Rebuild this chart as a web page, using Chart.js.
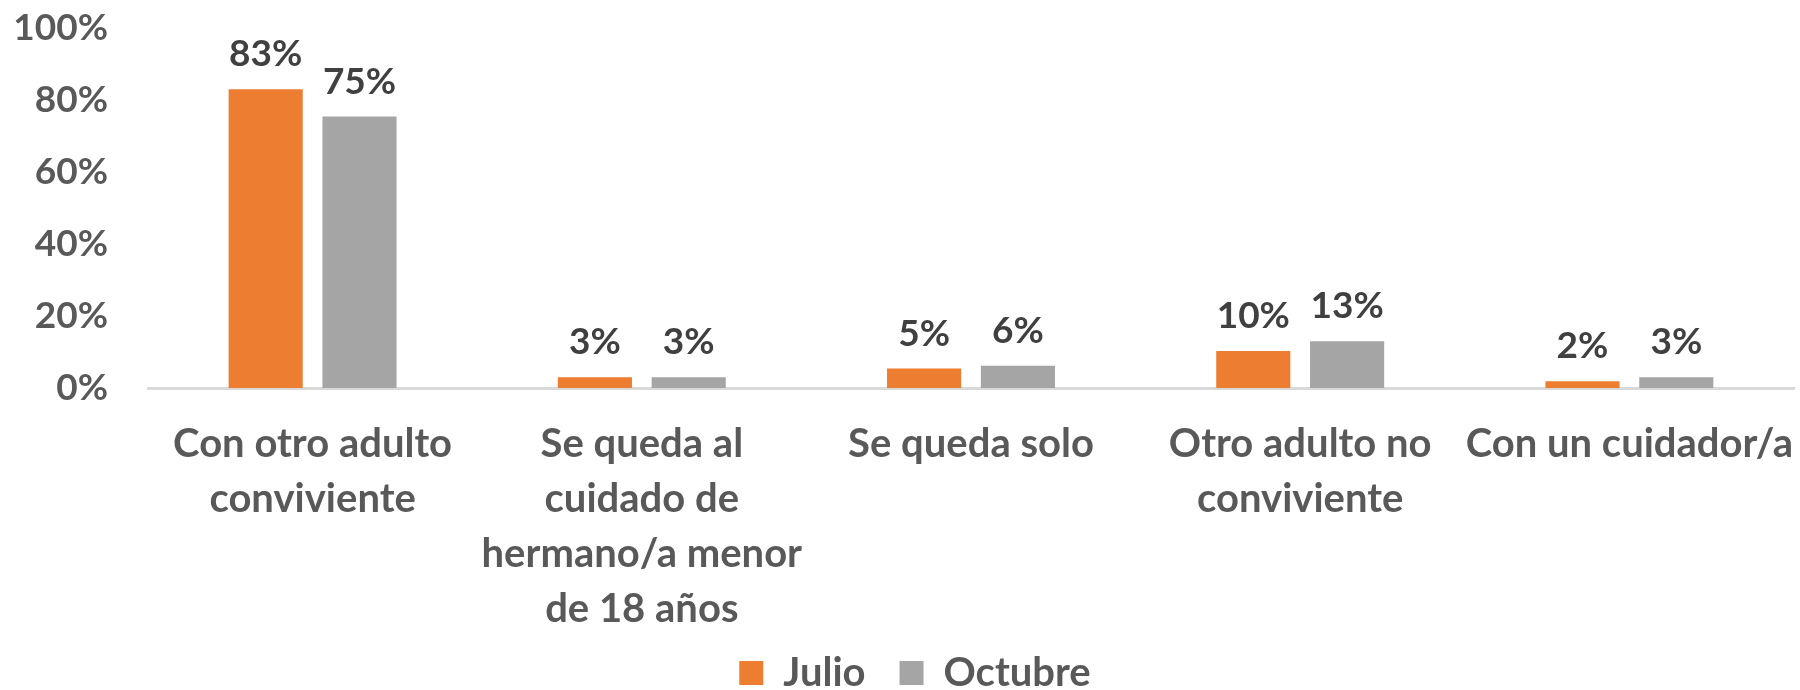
<!DOCTYPE html>
<html>
<head>
<meta charset="utf-8">
<script src="https://cdn.jsdelivr.net/npm/chart.js@4.4.0/dist/chart.umd.min.js"></script>
<style>
  html, body { margin: 0; padding: 0; background: #fff; }
  #wrap { width: 1800px; height: 690px; }
</style>
</head>
<body>
<div id="wrap"><canvas id="chart"></canvas></div>
<script>
// Data
const categories = [
    ['Con otro adulto', 'conviviente'],
    ['Se queda al', 'cuidado de', 'hermano/a menor', 'de 18 años'],
    'Se queda solo',
    ['Otro adulto no', 'conviviente'],
    'Con un cuidador/a'
];
const seriesNames = ['Julio', 'Octubre'];
const julio = [83, 3, 5.4, 10.3, 1.9];
const octubre = [75.4, 3, 6.2, 13, 3];
const yTicks = [0, 20, 40, 60, 80, 100];

Chart.defaults.font.family = "Lato, 'Noto Sans', sans-serif";
Chart.defaults.font.weight = 'bold';
Chart.defaults.color = '#595959';

// small layout tweaks + value labels above each bar
const tweaks = {
    id: 'tweaks',
    afterLayout(chart) {
        // legend sits a bit lower / further right than chart.js puts it
        chart.legend.top += 13;
        chart.legend.bottom += 13;
        chart.legend.left += 18;
        chart.legend.right += 18;
        // don't clip the 4-line category label
        chart.scales.x.bottom = chart.height;
    },
    afterDatasetsDraw(chart) {
        const ctx = chart.ctx;
        ctx.save();
        ctx.font = "bold 37px Lato, 'Noto Sans', sans-serif";
        ctx.fillStyle = '#404040';
        ctx.textAlign = 'center';
        ctx.textBaseline = 'alphabetic';
        chart.data.datasets.forEach((ds, i) => {
            chart.getDatasetMeta(i).data.forEach((bar, j) => {
                ctx.fillText(Math.round(ds.data[j]) + '%', bar.x, bar.y - 23);
            });
        });
        ctx.restore();
    }
};

new Chart(document.getElementById('chart').getContext('2d'), {
    type: 'bar',
    data: {
        labels: categories,
        datasets: [
            { label: seriesNames[0], data: julio, backgroundColor: '#ED7D31' },
            { label: seriesNames[1], data: octubre, backgroundColor: '#A5A5A5' }
        ]
    },
    options: {
        responsive: true,
        maintainAspectRatio: false,
        animation: false,
        categoryPercentage: 0.57,
        barPercentage: 0.79,
        layout: { padding: { top: 28, right: 6, left: 0, bottom: 0 } },
        scales: {
            x: {
                grid: { display: false },
                border: { color: '#D9D9D9', width: 3 },
                ticks: {
                    color: '#595959',
                    font: { size: 40, weight: 'bold', lineHeight: 1.37 },
                    padding: 21,
                    maxRotation: 0,
                    autoSkip: false
                },
                afterFit(axis) {
                    axis.height = 218;
                    axis.paddingLeft = 0; axis.paddingRight = 0;
                }
            },
            y: {
                min: 0, max: 100,
                afterBuildTicks(axis) { axis.ticks = yTicks.map(v => ({ value: v })); },
                grid: { display: false },
                border: { display: false },
                ticks: {
                    color: '#595959',
                    font: { size: 37, weight: 'bold' },
                    padding: 32,
                    callback: v => v + '%'
                },
                afterFit(axis) {
                    axis.width = 148;
                    axis.paddingTop = 0; axis.paddingBottom = 0;
                }
            }
        },
        plugins: {
            legend: {
                position: 'bottom',
                labels: {
                    boxWidth: 24,
                    boxHeight: 24,
                    padding: 34,
                    color: '#595959',
                    font: { size: 40, weight: 'bold' }
                }
            },
            tooltip: { enabled: false }
        }
    },
    plugins: [tweaks]
});
</script>
</body>
</html>
